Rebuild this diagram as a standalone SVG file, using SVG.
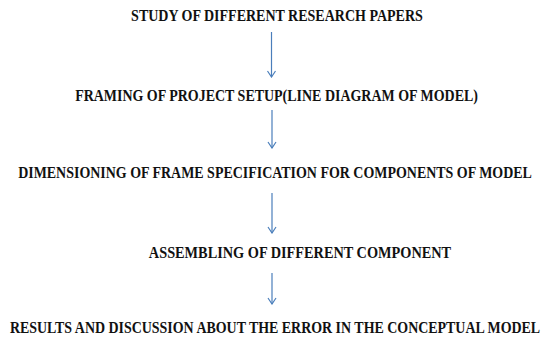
<svg xmlns="http://www.w3.org/2000/svg" width="544" height="338" viewBox="0 0 544 338">
<defs>
<marker id="ah" markerWidth="10" markerHeight="10" refX="9" refY="5" orient="auto" markerUnits="userSpaceOnUse" viewBox="0 0 10 10">
<path d="M3,1 L9,5 L3,9" fill="none" stroke="#4a7ebb" stroke-width="1.2"/>
</marker>
</defs>
<style>
text{font-family:"Liberation Serif","Times New Roman",serif;font-weight:bold;font-size:17px;fill:#111;text-anchor:middle}
.c{stroke:#4a7ebb;stroke-width:1.2;fill:none;marker-end:url(#ah)}
</style>
<rect width="544" height="338" fill="#fff"/>
<g id="n1" transform="scale(0.75,1)"><text x="369.3" y="21" textLength="389" lengthAdjust="spacingAndGlyphs">STUDY OF DIFFERENT RESEARCH PAPERS</text></g>
<g id="n2" transform="scale(0.75,1)"><text x="368.7" y="101" textLength="537" lengthAdjust="spacingAndGlyphs">FRAMING OF PROJECT SETUP(LINE DIAGRAM OF MODEL)</text></g>
<g id="n3" transform="scale(0.75,1)"><text x="366.7" y="178" textLength="685" lengthAdjust="spacingAndGlyphs">DIMENSIONING OF FRAME SPECIFICATION FOR COMPONENTS OF MODEL</text></g>
<g id="n4" transform="scale(0.75,1)"><text x="400" y="258" textLength="403" lengthAdjust="spacingAndGlyphs">ASSEMBLING OF DIFFERENT COMPONENT</text></g>
<g id="n5" transform="scale(0.75,1)"><text x="366.7" y="333" textLength="707" lengthAdjust="spacingAndGlyphs">RESULTS AND DISCUSSION ABOUT THE ERROR IN THE CONCEPTUAL MODEL</text></g>
<g id="connectors">
<line class="c" x1="271.5" y1="32" x2="271.5" y2="77"/>
<line class="c" x1="272" y1="110" x2="272" y2="148"/>
<line class="c" x1="272" y1="193" x2="272" y2="233"/>
<line class="c" x1="272" y1="273" x2="272" y2="304"/>
</g>
</svg>
